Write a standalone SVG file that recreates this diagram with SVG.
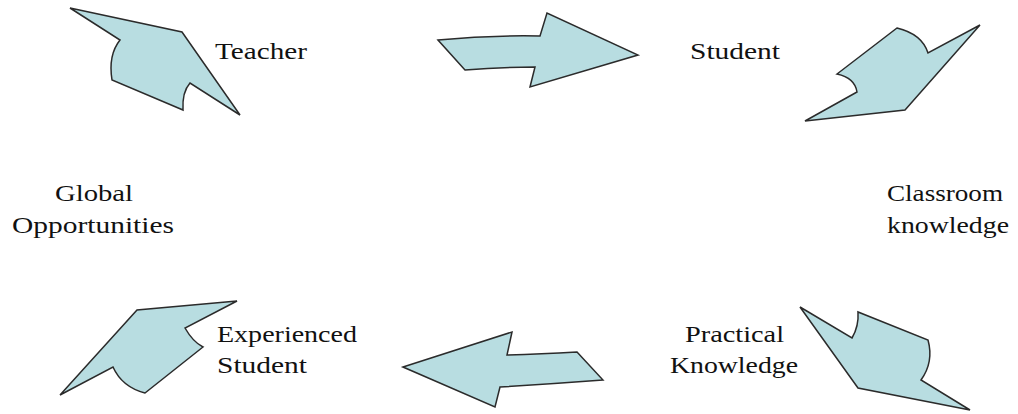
<svg xmlns="http://www.w3.org/2000/svg" width="1018" height="414" viewBox="0 0 1018 414">
<style>
.arrow{fill:#b8dde1;stroke:#2b2b2b;stroke-width:1.5;stroke-linejoin:miter}
.lbl{font-family:'Liberation Serif',Tinos,'Times New Roman',Times,serif;font-size:24px;fill:#111}
</style>
<rect width="1018" height="414" fill="#ffffff"/>
<g id="connectors">
<path id="arrow-teacher" class="arrow" d="M70,8 L182,32 L240,115 L190,83 Q182,92 183,110 L112,80 Q108,55 120,40 Z"/>
<path id="arrow-student" class="arrow" d="M438,40 Q490,35 540,36 L547,13 L638,55 L530,87 L535,67 Q500,67 465,70 Z"/>
<path id="arrow-classroom" class="arrow" d="M805,121 L857,92 Q855,78 837,74 L897,28 Q922,34 928,53 L980,25 L905,110 Z"/>
<path id="arrow-practical" class="arrow" d="M800,307 L852,338 Q859,326 858,312 L928,340 Q934,362 921,380 L970,410 L858,388 Z"/>
<path id="arrow-experienced" class="arrow" d="M403,367 L512,332 L507,355 Q540,354 577,352 L603,380 Q550,384 500,387 L495,407 Z"/>
<path id="arrow-global" class="arrow" d="M237,301 L185,328 Q193,342 203,347 L145,393 Q122,387 113,367 L60,395 L137,310 Z"/>
</g>
<g id="node-teacher"><text class="lbl" x="215" y="59" textLength="92" lengthAdjust="spacingAndGlyphs">Teacher</text></g>
<g id="node-student"><text class="lbl" x="690" y="59" textLength="90" lengthAdjust="spacingAndGlyphs">Student</text></g>
<g id="node-classroom">
<text class="lbl" x="887" y="201" textLength="116" lengthAdjust="spacingAndGlyphs">Classroom</text>
<text class="lbl" x="887" y="233" textLength="122" lengthAdjust="spacingAndGlyphs">knowledge</text>
</g>
<g id="node-practical">
<text class="lbl" x="685" y="342" textLength="99" lengthAdjust="spacingAndGlyphs">Practical</text>
<text class="lbl" x="670" y="373" textLength="128" lengthAdjust="spacingAndGlyphs">Knowledge</text>
</g>
<g id="node-experienced">
<text class="lbl" x="217" y="342" textLength="140" lengthAdjust="spacingAndGlyphs">Experienced</text>
<text class="lbl" x="217" y="373" textLength="90" lengthAdjust="spacingAndGlyphs">Student</text>
</g>
<g id="node-global">
<text class="lbl" x="55" y="201" textLength="78" lengthAdjust="spacingAndGlyphs">Global</text>
<text class="lbl" x="12" y="233" textLength="162" lengthAdjust="spacingAndGlyphs">Opportunities</text>
</g>
</svg>
